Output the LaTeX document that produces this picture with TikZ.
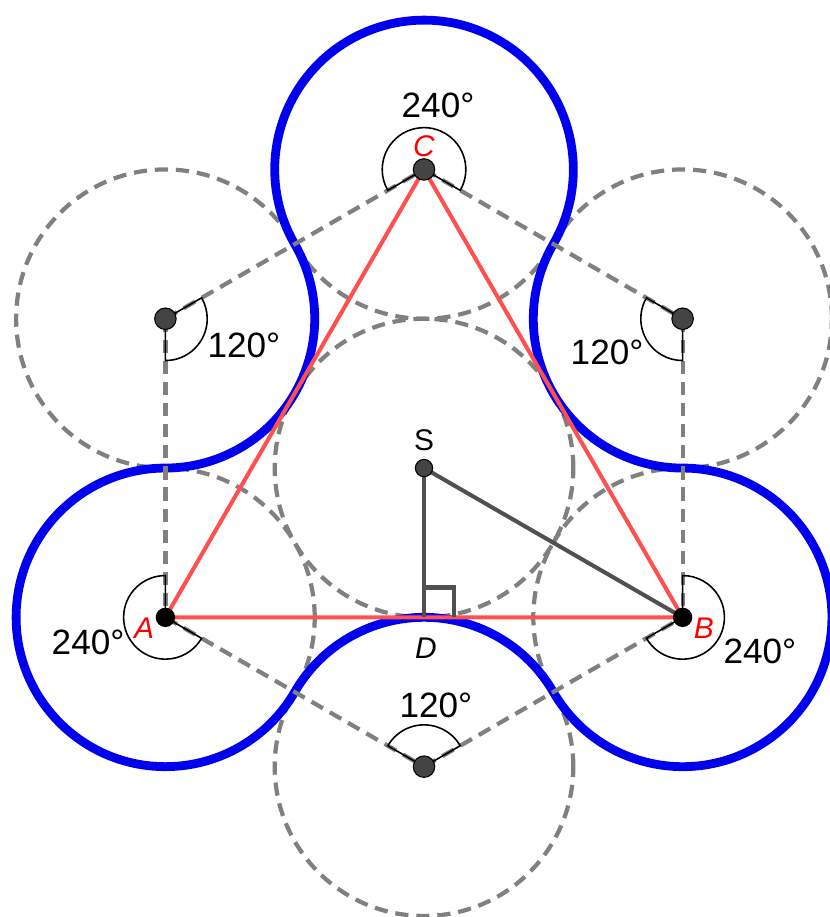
\documentclass[tikz,border=0pt]{standalone}
\usepackage{fontspec}
\setmainfont{Liberation Sans}
\usetikzlibrary{calc}
\definecolor{myblue}{RGB}{0,0,238}
\definecolor{myred}{RGB}{255,80,80}
\definecolor{dashgray}{RGB}{128,128,128}
\definecolor{darkline}{RGB}{80,80,80}
\definecolor{ptgray}{RGB}{68,68,68}
\tikzset{
  dashcirc/.style={draw=dashgray, line width=2.4pt, dash pattern=on 7.5pt off 4.5pt},
  dashseg/.style={draw=dashgray, line width=2.4pt, dash pattern=on 7.5pt off 4.5pt},
  bluecurve/.style={draw=myblue, line width=5pt},
  redline/.style={draw=myred, line width=2.3pt},
  darkseg/.style={draw=darkline, line width=2.3pt},
  anglemark/.style={draw=black, line width=0.9pt},
  graypt/.style={fill=ptgray, draw=black, line width=0.6pt},
  blackpt/.style={fill=black},
  deglabel/.style={font=\fontsize{20}{22}\selectfont, text=black},
  ptlabel/.style={font=\fontsize{17}{19}\selectfont\itshape, text=red},
  smalllabel/.style={font=\fontsize{17}{19}\selectfont, text=black}
}
\begin{document}
\begin{tikzpicture}[x=2.986cm,y=2.986cm]
\useasboundingbox (-2.840,-3.007) rectangle (2.713,3.135);
\coordinate (S) at (0,0);
\coordinate (A) at (210:2);
\coordinate (B) at (330:2);
\coordinate (C) at (90:2);
\coordinate (P) at (150:2);
\coordinate (Q) at (30:2);
\coordinate (O) at (270:2);
\coordinate (D) at (0,-1);
% dashed circles
\foreach \c in {S,A,B,C,P,Q,O}{
  \path[dashcirc] (\c) circle[radius=1];
}
% blue curve
\path[bluecurve] ($(C)+(330:1)$)
  arc[start angle=330,end angle=570,radius=1]
  arc[start angle=30,end angle=-90,radius=1]
  arc[start angle=90,end angle=330,radius=1]
  arc[start angle=150,end angle=30,radius=1]
  arc[start angle=210,end angle=450,radius=1]
  arc[start angle=270,end angle=150,radius=1] -- cycle;
% dashed connectors
\path[dashseg] (P) -- (A);
\path[dashseg] (P) -- (C);
\path[dashseg] (C) -- (Q);
\path[dashseg] (Q) -- (B);
\path[dashseg] (A) -- (O);
\path[dashseg] (O) -- (B);
% triangle
\path[redline] (A) -- (B) -- (C) -- cycle;
% S-D, S-B
\path[darkseg] (S) -- (D);
\path[darkseg] (S) -- (B);
\path[darkseg] ($(D)+(0,0.2)$) -- ++(0.2,0) -- ++(0,-0.2);
% angle marks
\path[anglemark] (C) -- ++(330:0.28) arc[start angle=330,end angle=570,radius=0.28] -- cycle;
\path[anglemark] (A) -- ++(90:0.28) arc[start angle=90,end angle=330,radius=0.28] -- cycle;
\path[anglemark] (B) -- ++(210:0.28) arc[start angle=210,end angle=450,radius=0.28] -- cycle;
\path[anglemark] (P) -- ++(-90:0.28) arc[start angle=-90,end angle=30,radius=0.28] -- cycle;
\path[anglemark] (Q) -- ++(150:0.28) arc[start angle=150,end angle=270,radius=0.28] -- cycle;
\path[anglemark] (O) -- ++(30:0.28) arc[start angle=30,end angle=150,radius=0.28] -- cycle;
% points
\foreach \c in {C,P,Q,O}{
  \path[graypt] (\c) circle[radius=0.072];
}
\path[graypt] (S) circle[radius=0.058];
\path[blackpt] (A) circle[radius=0.065];
\path[blackpt] (B) circle[radius=0.065];
% labels
\node[ptlabel] (lC) at (0,2.157) {C};
\node[ptlabel] (lA) at (-1.875,-1.072) {A};
\node[ptlabel] (lB) at (1.875,-1.072) {B};
\node[smalllabel] (lS) at (0,0.185) {S};
\node[smalllabel, font=\fontsize{17}{19}\selectfont\itshape] (lD) at (0.013,-1.21) {D};
\node[deglabel] (dC) at (0.094,2.431) {240°};
\node[deglabel] (dA) at (-2.250,-1.165) {240°};
\node[deglabel] (dB) at (2.250,-1.226) {240°};
\node[deglabel] (dP) at (-1.206,0.824) {120°};
\node[deglabel] (dQ) at (1.226,0.777) {120°};
\node[deglabel] (dO) at (0.080,-1.587) {120°};
\end{tikzpicture}
\end{document}
